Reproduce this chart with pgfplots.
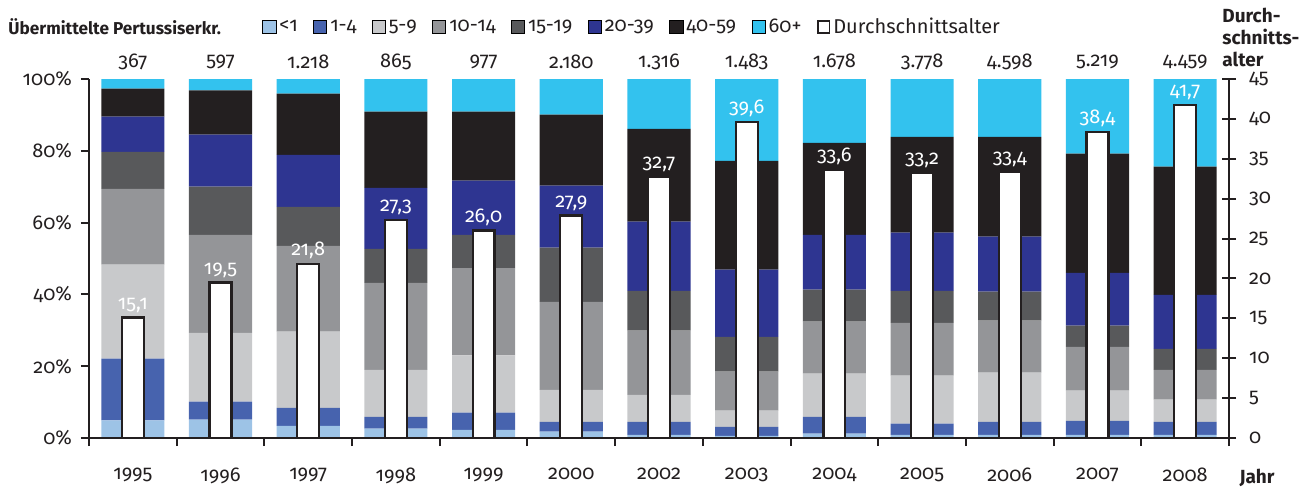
\documentclass[border=0pt]{standalone}
\usepackage{fontspec}
\setmainfont{Fira Sans}[Numbers=OldStyle, RawFeature={+onum}]
\usepackage{pgfplots}
\pgfplotsset{compat=1.18}
\definecolor{c1}{HTML}{9DC3E6}
\definecolor{c2}{HTML}{4763AE}
\definecolor{c3}{HTML}{C8C9CB}
\definecolor{c4}{HTML}{949598}
\definecolor{c5}{HTML}{58595B}
\definecolor{c6}{HTML}{2E3591}
\definecolor{c7}{HTML}{231F20}
\definecolor{c8}{HTML}{33C2EE}
\begin{document}
\begin{tikzpicture}[font=\fontsize{10}{12}\selectfont]
\path[use as bounding box] (-44.5pt,-25pt) rectangle (607.5pt,219pt);
\begin{axis}[
  scale only axis, width=570pt, height=179.5pt,
  xmin=-0.5, xmax=12.5, ymin=0, ymax=100,
  ybar stacked, bar width=0.72,
  axis x line*=bottom, axis y line*=left,
  x axis line style={-, draw=c7, line width=1pt},
  y axis line style={-, draw=c7, line width=1pt},
  tick style={draw=c7, line width=1pt},
  tick align=outside, major tick length=4pt,
  ytick={0,20,40,60,80,100},
  yticklabels={0\%,20\%,40\%,60\%,80\%,100\%},
  xtick={0,...,12},
  xticklabels={1995,1996,1997,1998,1999,2000,2002,2003,2004,2005,2006,2007,2008},
  xtick style={draw=none},
  xticklabel style={yshift=-7.5pt},
  yticklabel style={xshift=-1pt},
  tick label style={font=\fontsize{10}{12}\selectfont, text=c7},
]
\addplot[fill=c1, draw=none] coordinates {(0,4.9)(1,5.1)(2,3.4)(3,2.6)(4,2.3)(5,1.8)(6,0.9)(7,0.6)(8,1.2)(9,0.9)(10,0.9)(11,0.9)(12,0.9)};
\addplot[fill=c2, draw=none] coordinates {(0,17.2)(1,5.0)(2,5.0)(3,3.3)(4,4.8)(5,2.7)(6,3.6)(7,2.5)(8,4.7)(9,3.1)(10,3.6)(11,3.9)(12,3.6)};
\addplot[fill=c3, draw=none] coordinates {(0,26.2)(1,19.2)(2,21.2)(3,13.1)(4,15.9)(5,8.9)(6,7.5)(7,4.5)(8,12.0)(9,13.4)(10,13.7)(11,8.4)(12,6.2)};
\addplot[fill=c4, draw=none] coordinates {(0,21.1)(1,27.3)(2,23.9)(3,24.2)(4,24.3)(5,24.5)(6,17.9)(7,10.9)(8,14.5)(9,14.7)(10,14.5)(11,12.2)(12,8.3)};
\addplot[fill=c5, draw=none] coordinates {(0,10.3)(1,13.4)(2,10.9)(3,9.5)(4,9.3)(5,15.1)(6,11.1)(7,9.7)(8,8.9)(9,8.9)(10,8.1)(11,5.9)(12,5.8)};
\addplot[fill=c6, draw=none] coordinates {(0,9.8)(1,14.5)(2,14.5)(3,17.0)(4,15.1)(5,17.3)(6,19.3)(7,18.7)(8,15.3)(9,16.2)(10,15.3)(11,14.7)(12,15.1)};
\addplot[fill=c7, draw=none] coordinates {(0,7.8)(1,12.3)(2,17.0)(3,21.2)(4,19.2)(5,19.8)(6,25.8)(7,30.3)(8,25.6)(9,26.7)(10,27.8)(11,33.2)(12,35.7)};
\addplot[fill=c8, draw=none] coordinates {(0,2.7)(1,3.2)(2,4.1)(3,9.1)(4,9.1)(5,9.9)(6,13.9)(7,22.8)(8,17.8)(9,16.1)(10,16.1)(11,20.8)(12,24.4)};
\end{axis}
\begin{axis}[
  scale only axis, width=570pt, height=179.5pt,
  xmin=-0.5, xmax=12.5, ymin=0, ymax=45,
  axis x line*=bottom, hide y axis,
  x axis line style={-, draw=c7, line width=1pt},
  xtick={-0.5,0.5,...,12.5}, xticklabels={},
  tick style={draw=c7, line width=1pt},
  tick align=outside, major tick length=4pt,
]
\end{axis}
\begin{axis}[
  scale only axis, width=570pt, height=179.5pt,
  xmin=-0.5, xmax=12.5, ymin=0, ymax=45,
  axis y line*=right, axis x line=none,
  y axis line style={-, draw=c7, line width=1pt},
  tick style={draw=c7, line width=1pt},
  tick align=center, major tick length=7pt,
  ytick={0,5,...,45},
  yticklabels={0,5,10,15,20,25,30,35,40,45},
  yticklabel style={xshift=3pt},
  tick label style={font=\fontsize{10}{12}\selectfont, text=c7},
  clip=false,
  legend columns=-1,
  legend style={at={(axis description cs:0,1)}, anchor=west, xshift=86.5pt, yshift=26pt,
    draw=none, fill=none, inner sep=0pt, font=\fontsize{10}{12}\selectfont,
    nodes={inner sep=1.5pt, text=c7},
    /tikz/every even column/.append style={column sep=6.2pt}},
  legend image code/.code={\draw[#1] (0pt,-3.3pt) rectangle (6.6pt,3.3pt);},
]
\addlegendimage{fill=c1, draw=none}
\addlegendimage{fill=c2, draw=none}
\addlegendimage{fill=c3, draw=none}
\addlegendimage{fill=c4, draw=none}
\addlegendimage{fill=c5, draw=none}
\addlegendimage{fill=c6, draw=none}
\addlegendimage{fill=c7, draw=none}
\addlegendimage{fill=c8, draw=none}
\addplot[ybar, bar width=0.25, fill=white, draw=c7, line width=1.1pt,
  legend image code/.code={\draw[fill=white, draw=c7, line width=0.9pt] (0.4pt,-2.9pt) rectangle (6.2pt,2.9pt);},
  nodes near coords, point meta=explicit symbolic,
  nodes near coords style={text=white, anchor=south, inner sep=2pt, font=\fontsize{10}{12}\selectfont}]
  coordinates {(0,15.1)[15{,}1] (1,19.5)[19{,}5] (2,21.8)[21{,}8] (3,27.3)[27{,}3] (4,26.0)[26{,}0] (5,27.9)[27{,}9] (6,32.7)[32{,}7] (7,39.6)[39{,}6] (8,33.6)[33{,}6] (9,33.2)[33{,}2] (10,33.4)[33{,}4] (11,38.4)[38{,}4] (12,41.7)[41{,}7]};
\addplot[forget plot, sharp plot, draw=none, mark=none,
  nodes near coords, point meta=explicit symbolic,
  nodes near coords style={anchor=center, yshift=8.5pt, text=c7, font=\fontsize{10}{12}\selectfont}]
  coordinates {(0,45)[367] (1,45)[597] (2,45)[1.218] (3,45)[865] (4,45)[977] (5,45)[2.180] (6,45)[1.316] (7,45)[1.483] (8,45)[1.678] (9,45)[3.778] (10,45)[4.598] (11,45)[5.219] (12,45)[4.459]};
\legend{<1,1-4,5-9,10-14,15-19,20-39,40-59,60+,Durchschnittsalter}
\end{axis}
\node[anchor=west, inner sep=0pt, font=\bfseries\fontsize{8.6}{11}\selectfont, text=c7] at (-40.5pt,205.5pt) {Übermittelte Pertussiserkr.};
\node[anchor=north west, align=left, font=\bfseries\fontsize{9.5}{11}\selectfont, text=c7, inner sep=0pt] at (566.5pt,215pt) {Durch-\\schnitts-\\alter};
\node[font=\bfseries\fontsize{9.5}{11}\selectfont, text=c7] at (584pt,-20pt) {Jahr};
\end{tikzpicture}
\end{document}
